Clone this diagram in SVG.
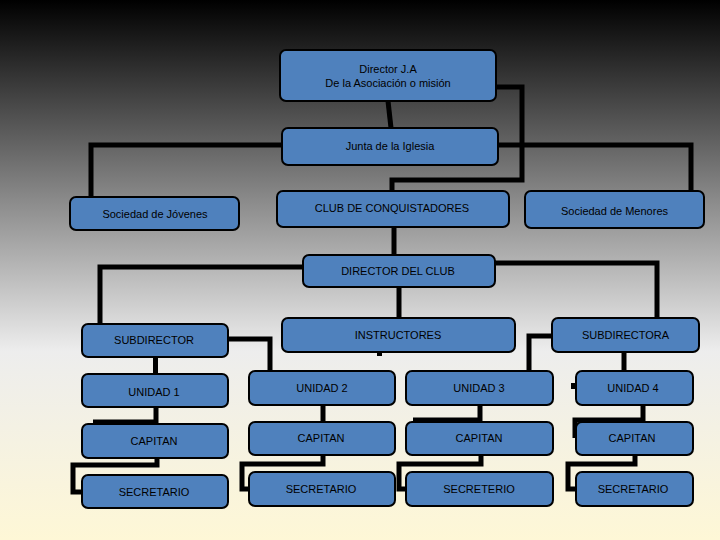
<svg xmlns="http://www.w3.org/2000/svg" width="720" height="540" viewBox="0 0 720 540">
<defs>
<linearGradient id="bg" x1="0" y1="0" x2="0" y2="1">
<stop offset="0" stop-color="#000000"/>
<stop offset="0.37" stop-color="#8a8a8a"/>
<stop offset="0.65" stop-color="#ededed"/>
<stop offset="1" stop-color="#fef7d6"/>
</linearGradient>
</defs>
<style>
.box{fill:#4f81bd;stroke:#000;stroke-width:2}
.t{font-family:"Liberation Sans",Arial,sans-serif;font-size:11px;fill:#000;text-anchor:middle}
.c{fill:none;stroke:#000;stroke-width:5;stroke-linejoin:miter;stroke-linecap:butt}
</style>
<rect x="0" y="0" width="720" height="540" fill="url(#bg)"/>
<g id="connectors">
<path class="c" d="M388,101 L391,128"/>
<path class="c" d="M496,87 H522 V180 H392 V191"/>
<path class="c" d="M282,145 H91 V197"/>
<path class="c" d="M498,145 H691 V191"/>
<path class="c" d="M394,227 V255"/>
<path class="c" d="M303,267 H100 V324"/>
<path class="c" d="M495,263 H657 V318"/>
<path class="c" d="M399,287 V318"/>
<rect x="377" y="351" width="5" height="5" fill="#000"/>
<path class="c" d="M228,339 H270 V371"/>
<path class="c" d="M155.5,357 V374"/>
<path class="c" d="M552,336 H529 V371"/>
<path class="c" d="M624,352 V371"/>
<rect x="571" y="383" width="6" height="6" fill="#000"/>
<path class="c" d="M156,407 V422 H93"/>
<path class="c" d="M157,458 V465 H73 V492 H82"/>
<path class="c" d="M323,405 V422"/>
<path class="c" d="M323,455 V464 H242 V489 H249"/>
<path class="c" d="M480,405 V420 H413"/>
<path class="c" d="M481,455 V464 H399 V489 H406"/>
<path class="c" d="M643,405 V420 H575 V438"/>
<path class="c" d="M635,455 V464 H568 V489 H576"/>
</g>
<g id="director"><rect class="box" x="280" y="50" width="216" height="51" rx="6"/><text class="t" x="388" y="73">Director J.A</text><text class="t" x="388" y="86.5">De la Asociación o misión</text></g>
<g id="junta"><rect class="box" x="282" y="128" width="216" height="37" rx="6"/><text class="t" x="390" y="150">Junta de la Iglesia</text></g>
<g id="jovenes"><rect class="box" x="70" y="197" width="169" height="33" rx="6"/><text class="t" x="155" y="218">Sociedad de Jóvenes</text></g>
<g id="club"><rect class="box" x="277" y="191" width="232" height="36" rx="6"/><text class="t" x="392" y="212">CLUB DE CONQUISTADORES</text></g>
<g id="menores"><rect class="box" x="525" y="191" width="179" height="37" rx="6"/><text class="t" x="614.5" y="214.5">Sociedad de Menores</text></g>
<g id="director-club"><rect class="box" x="303" y="255" width="192" height="32" rx="6"/><text class="t" x="398" y="275">DIRECTOR DEL CLUB</text></g>
<g id="subdirector"><rect class="box" x="82" y="324" width="146" height="33" rx="6"/><text class="t" x="154" y="344">SUBDIRECTOR</text></g>
<g id="instructores"><rect class="box" x="282" y="318" width="233" height="34" rx="6"/><text class="t" x="398" y="339">INSTRUCTORES</text></g>
<g id="subdirectora"><rect class="box" x="552" y="318" width="147" height="34" rx="6"/><text class="t" x="625.5" y="339">SUBDIRECTORA</text></g>
<g id="unidad1"><rect class="box" x="82" y="374" width="146" height="33" rx="6"/><text class="t" x="154" y="395.5">UNIDAD 1</text></g>
<g id="unidad2"><rect class="box" x="249" y="371" width="146" height="34" rx="6"/><text class="t" x="322" y="392">UNIDAD 2</text></g>
<g id="unidad3"><rect class="box" x="406" y="371" width="147" height="34" rx="6"/><text class="t" x="479" y="392">UNIDAD 3</text></g>
<g id="unidad4"><rect class="box" x="576" y="371" width="117" height="34" rx="6"/><text class="t" x="633" y="392">UNIDAD 4</text></g>
<g id="capitan1"><rect class="box" x="82" y="424" width="146" height="34" rx="6"/><text class="t" x="154" y="445">CAPITAN</text></g>
<g id="capitan2"><rect class="box" x="249" y="422" width="146" height="33" rx="6"/><text class="t" x="321" y="441.5">CAPITAN</text></g>
<g id="capitan3"><rect class="box" x="406" y="422" width="147" height="33" rx="6"/><text class="t" x="479" y="441.5">CAPITAN</text></g>
<g id="capitan4"><rect class="box" x="576" y="422" width="117" height="33" rx="6"/><text class="t" x="632" y="441.5">CAPITAN</text></g>
<g id="secretario1"><rect class="box" x="82" y="475" width="146" height="33" rx="6"/><text class="t" x="154" y="495.5">SECRETARIO</text></g>
<g id="secretario2"><rect class="box" x="249" y="472" width="146" height="34" rx="6"/><text class="t" x="321" y="493">SECRETARIO</text></g>
<g id="secretario3"><rect class="box" x="406" y="472" width="147" height="34" rx="6"/><text class="t" x="479" y="493">SECRETERIO</text></g>
<g id="secretario4"><rect class="box" x="576" y="472" width="117" height="34" rx="6"/><text class="t" x="633" y="493">SECRETARIO</text></g>
</svg>
